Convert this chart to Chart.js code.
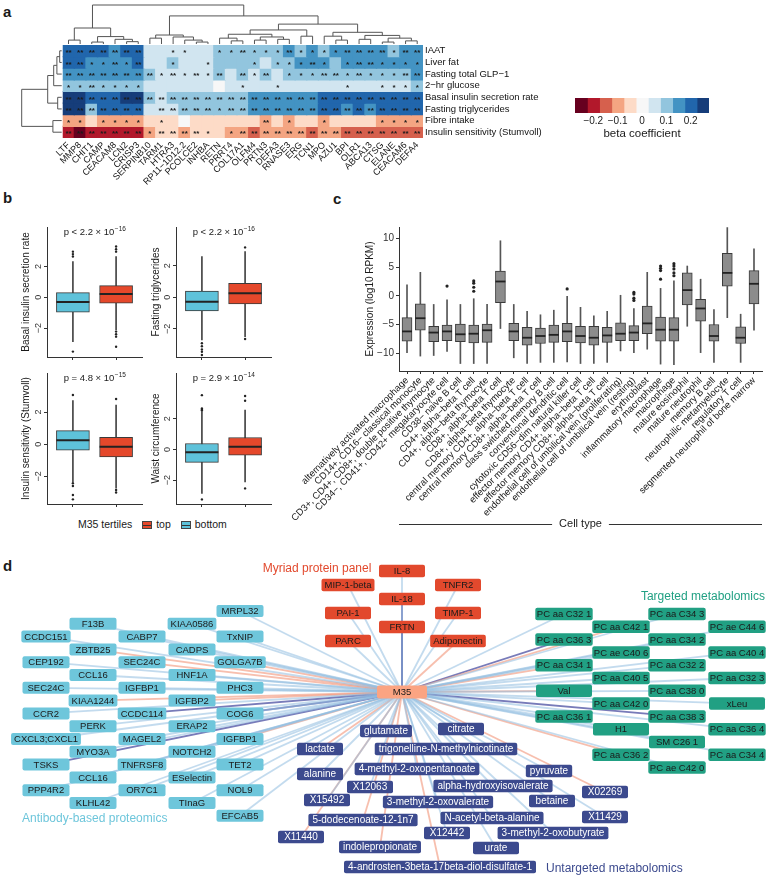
<!DOCTYPE html>
<html>
<head>
<meta charset="utf-8">
<title>M35 module</title>
<script src="https://cdn.jsdelivr.net/npm/chart.js@4.4.1/dist/chart.umd.min.js"></script>
<style>
  body { margin: 0; background: #fff; }
  #fig { position: relative; width: 766px; height: 876px; overflow: hidden; font-family: "Liberation Sans", Arial, sans-serif; color: #1a1a1a; }
  #fig canvas { position: absolute; }
  .tag { position: absolute; font-weight: bold; font-size: 15px; }
  .leg { position: absolute; left: 78px; top: 518px; font-size: 10.5px; white-space: nowrap; }
  .key { display: inline-block; width: 8px; height: 6px; border: 1px solid #444; margin: 0 4px 0 7px; vertical-align: -1px;
         background-image: linear-gradient(#333, #333); background-size: 100% 1px; background-position: center; background-repeat: no-repeat; }
</style>
</head>
<body>
<div id="fig">
  <div class="tag" style="left:3px;top:3px">a</div>
  <div class="tag" style="left:3px;top:189px">b</div>
  <div class="tag" style="left:333px;top:190px">c</div>
  <div class="tag" style="left:3px;top:557px">d</div>
  <div class="leg">M35 tertiles <span class="key" style="background-color:#E5482B"></span>top <span class="key" style="background-color:#5EC2DA"></span>bottom</div>
</div>
<script>
Chart.defaults.font.family = '"Liberation Sans", Arial, sans-serif';
Chart.defaults.color = '#1a1a1a';
Chart.defaults.animation = false;
Chart.defaults.plugins.legend.display = false;
Chart.defaults.plugins.tooltip.enabled = false;

// ---------------- panel a: heatmap ----------------
const genes = ['LTF', 'MMP8', 'CHIT1', 'CAMP', 'CEACAM8', 'LCN2', 'CRISP3', 'SERPINB10', 'TARM1', 'HTRA3', 'RP11−1D12.2',
  'PCOLCE2', 'INHBA', 'RETN', 'PRRT4', 'COL17A1', 'OLFM4', 'PRTN3', 'DEFA3', 'RNASE3', 'ERG', 'TCN1', 'MPO', 'AZU1',
  'BPI', 'OLR1', 'ABCA13', 'CTSG', 'ELANE', 'CEACAM6', 'DEFA4'];
const traits = ['IAAT', 'Liver fat', 'Fasting total GLP−1', '2−hr glucose', 'Basal insulin secretion rate',
  'Fasting triglycerides', 'Fibre intake', 'Insulin sensitivity (Stumvoll)'];
const beta = [
  [.2, .2, .2, .2, .15, .2, .2, .05, .05, .05, .05, .05, .05, .1, .1, .1, .1, .1, .1, .15, .1, .15, .1, .15, .15, .15, .15, .15, .1, .15, .15],
  [.2, .2, .15, .15, .15, .15, .2, .05, .05, .1, .05, .05, .05, .1, .1, .1, .1, .05, .1, .1, .15, .15, .15, .1, .15, .15, .15, .15, .15, .15, .15],
  [.15, .15, .15, .15, .15, .15, .15, .1, .05, .05, .05, .05, .05, .1, .05, .1, .05, .1, .05, .1, .1, .1, .1, .1, .1, .1, .1, .1, .1, .1, .15],
  [.1, .1, .1, .1, .1, .1, .1, .05, .05, .05, .05, .05, .05, 0, .05, .05, .05, .05, .05, .05, .05, .05, .05, .05, .05, .05, .05, .05, .05, .05, .1],
  [.25, .25, .2, .2, .2, .25, .25, .1, .05, .1, .1, .1, .1, .1, .1, .1, .15, .15, .15, .15, .15, .15, .2, .2, .2, .2, .2, .2, .2, .2, .2],
  [.25, .25, .1, .2, .2, .2, .2, .05, .05, .05, .1, .1, .1, .1, .1, .1, .15, .15, .15, .15, .15, .15, .2, .2, .15, .2, .15, .2, .2, .2, .2],
  [-.1, -.1, -.05, -.1, -.1, -.1, -.1, -.05, -.05, -.05, 0, -.05, -.05, -.05, -.05, -.05, -.05, -.1, -.05, -.1, -.05, -.05, -.1, -.05, -.05, -.05, -.05, -.1, -.1, -.1, -.1],
  [-.2, -.25, -.2, -.2, -.2, -.2, -.2, -.1, -.05, -.05, -.1, -.05, -.05, -.05, -.1, -.1, -.15, -.1, -.1, -.1, -.1, -.15, -.1, -.1, -.15, -.15, -.15, -.15, -.15, -.15, -.15]
];
// 2 = **, 1 = *, 0 = not significant
const stars = [
  '2222222001100112111211112222122',
  '2211212001001000101112101221111',
  '2222222212121202120111221211122',
  '1121111000000001001000001001111',
  '2222222222222222222222222222222',
  '2222222022222122222222222222222',
  '1101111010000000020100100001111',
  '2222222122221012222222222222222'
];
// dendrograms: [height, left, right], leaves are indices
const colTree = [1,
  [0.41, [0.1, 0, 1], [0.19, [0.05, 2, 3], [0.12, 4, [0.06, 5, 6]]]],
  [0.72,
    [0.23, [0.15, 7, 8], [0.18, 9, [0.1, 10, [0.05, 11, 12]]]],
    [0.51,
      [0.36, [0.25, [0.15, 13, [0.08, 14, 15]], [0.18, [0.1, 16, 17], [0.12, 18, 19]]], [0.2, 20, 21]],
      [0.3, [0.2, 22, [0.1, 23, 24]], [0.22, [0.12, 25, 26], [0.15, [0.05, 27, 28], [0.08, 29, 30]]]]]]];
const rowTree = [1, [0.35, [0.2, [0.12, [0.05, 0, 1], 2], 3], [0.1, 4, 5]], [0.22, 6, 7]];

const cbSteps = [-0.25, -0.2, -0.15, -0.1, -0.05, 0, 0.05, 0.1, 0.15, 0.2, 0.25];
const cbTicks = [-0.2, -0.1, 0, 0.1, 0.2];
const heatColors = ['#67001F', '#B2182B', '#D6604D', '#F4A582', '#FDDBC7', '#F7F7F7', '#D1E5F0', '#92C5DE', '#4393C3', '#2166AC', '#163D7A'];

// ---------------- panel b: boxplots ----------------
const tertiles = ['bottom', 'top'];
const bTicks = [-2, 0, 2];
// [lower whisker, Q1, median, Q3, upper whisker] for bottom, top
const basalBox = [[-2.88, -0.97, -0.31, 0.30, 2.31], [-2.12, -0.39, 0.21, 0.75, 2.64]];
const basalOut = [[2.64, 2.8, 2.96, -3.53], [2.96, 3.12, 3.29, -2.23, -2.4, -2.56, -3.21]];
const trigBox = [[-2.7, -0.87, -0.28, 0.40, 2.57], [-2.49, -0.42, 0.25, 0.89, 2.89]];
const trigOut = [[-2.91, -3.1, -3.3, -3.45, -3.65], [3.16, -2.64]];
const isiBox = [[-2.32, -0.37, 0.25, 0.85, 2.71], [-2.73, -0.79, -0.15, 0.43, 2.44]];
const isiOut = [[3.06, -2.42, -2.59, -3.15, -3.42], [2.81, -2.84, -3.0]];
const waistBox = [[-2.88, -0.85, -0.18, 0.39, 2.46], [-2.12, -0.37, 0.17, 0.78, 2.57]];
const waistOut = [[2.54, 2.6, 2.68, 3.55, -3.27], [3.18, 3.5, -2.55]];

// ---------------- panel c: expression by cell type ----------------
const cellTypes = ['alternatively activated macrophage', 'CD14+, CD16− classical monocyte',
  'CD3+, CD4+, CD8+, double positive thymocyte', 'CD34−, CD41+, CD42+ megakaryocyte cell', 'CD38− naive B cell',
  'CD4+, alpha−beta T cell', 'CD4+, alpha−beta thymocyte', 'CD8+, alpha−beta T cell', 'CD8+, alpha−beta thymocyte',
  'central memory CD4+, alpha−beta T cell', 'central memory CD8+, alpha−beta T cell', 'class switched memory B cell',
  'conventional dendritic cell', 'cytotoxic CD56−dim natural killer cell', 'effector memory CD4+, alpha−beta T cell',
  'effector memory CD8+, alpha−beta T cell', 'endothelial cell of umbilical vein (proliferating)',
  'endothelial cell of umbilical vein (resting)', 'erythroblast', 'inflammatory macrophage', 'macrophage',
  'mature eosinophil', 'mature neutrophil', 'memory B cell', 'neutrophilic metamyelocyte', 'regulatory T cell',
  'segmented neutrophil of bone marrow'];
const cTicks = [-10, -5, 0, 5, 10];
const cellBox = [
  [-9.9, -7.9, -6.2, -3.8, 1.9], [-10.5, -6.0, -3.9, -1.4, 4.1], [-10.4, -8.0, -6.4, -5.3, -1.5], [-9.7, -7.8, -6.2, -5.1, -0.7],
  [-11.8, -8.0, -6.7, -4.9, -1.5], [-11.8, -8.2, -6.6, -5.1, -0.5], [-11.8, -8.1, -6.0, -4.9, -1.5], [-5.7, -1.2, 2.5, 4.3, 9.6],
  [-10.8, -7.8, -6.2, -4.8, -1.5], [-11.8, -8.6, -7.3, -5.5, -2.7], [-11.6, -8.3, -7.0, -5.6, -3.3], [-11.6, -8.1, -6.8, -5.1, -2.5],
  [-11.5, -8.0, -6.2, -4.8, -0.1], [-11.8, -8.2, -7.0, -5.3, -2.0], [-11.8, -8.6, -7.3, -5.3, -3.5], [-11.6, -8.1, -6.9, -5.5, -2.7],
  [-9.6, -7.8, -6.6, -4.7, 0.1], [-9.9, -7.8, -6.4, -5.2, -2.2], [-9.3, -6.6, -4.8, -1.8, 4.1], [-11.9, -7.9, -5.9, -3.7, 1.3],
  [-12.0, -7.9, -5.9, -3.8, 2.6], [-5.3, -1.6, 1.0, 4.0, 5.2], [-9.9, -4.4, -2.2, -0.6, 2.9], [-11.6, -7.9, -7.0, -5.0, -2.4],
  [-3.8, 1.7, 4.0, 7.4, 11.9], [-11.6, -8.3, -7.3, -5.4, -3.2], [-6.0, -1.4, 2.1, 4.4, 8.2]
];
const cellOut = [[], [], [], [1.7], [], [2.6, 2.2, 1.5, 0.8], [], [], [], [], [], [], [1.2], [], [], [], [],
  [0.6, 0.3, -0.4, -0.8], [], [5.2, 4.8, 4.4, 2.9], [5.6, 5.2, 4.7, 4.0, 3.5], [], [], [], [], [], []];

// ---------------- panel d: network ----------------
// sign of the M35 association per node: b = positive, r = negative, d = strongest positive
const abNames = ['CCDC151', 'CEP192', 'SEC24C', 'CCR2', 'CXCL3;CXCL1', 'TSKS', 'PPP4R2',
  'F13B', 'ZBTB25', 'CCL16', 'KIAA1244', 'PERK', 'MYO3A', 'CCL16', 'KLHL42',
  'CABP7', 'SEC24C', 'IGFBP1', 'CCDC114', 'MAGEL2', 'TNFRSF8', 'OR7C1',
  'KIAA0586', 'CADPS', 'HNF1A', 'IGFBP2', 'ERAP2', 'NOTCH2', 'ESelectin', 'TInaG',
  'MRPL32', 'TxNIP', 'GOLGA7B', 'PHC3', 'COG6', 'IGFBP1', 'TET2', 'NOL9', 'EFCAB5'];
const abSign = 'bbbbbdb' + 'brbrbbbb' + 'brbdbbb' + 'bbbrbbbb' + 'bbrbdrbbb';
const abCol = [0, 0, 0, 0, 0, 0, 0, 1, 1, 1, 1, 1, 1, 1, 1, 2, 2, 2, 2, 2, 2, 2, 3, 3, 3, 3, 3, 3, 3, 3, 4, 4, 4, 4, 4, 4, 4, 4, 4];
const abRow = [2, 4, 6, 8, 10, 12, 14, 1, 3, 5, 7, 9, 11, 13, 15, 2, 4, 6, 8, 10, 12, 14, 1, 3, 5, 7, 9, 11, 13, 15, 0, 2, 4, 6, 8, 10, 12, 14, 16];

const myNames = ['MIP-1-beta', 'PAI-1', 'PARC', 'IL-8', 'IL-18', 'FRTN', 'TNFR2', 'TIMP-1', 'Adiponectin'];
const mySign = 'bbbbddbbr';
const myCol = [0, 0, 0, 1, 1, 1, 2, 2, 2];
const myRow = [1, 3, 5, 0, 2, 4, 1, 3, 5];

const tmNames = ['PC aa C32 1', 'PC aa C36 3', 'PC aa C34 1', 'Val', 'PC aa C36 1',
  'PC aa C42 1', 'PC ae C40 6', 'PC aa C40 5', 'PC aa C42 0', 'H1', 'PC aa C36 2',
  'PC aa C34 3', 'PC aa C34 2', 'PC aa C32 2', 'PC aa C38 0', 'PC aa C38 3', 'SM C26 1', 'PC ae C42 0',
  'PC ae C44 6', 'PC aa C40 4', 'PC aa C32 3', 'xLeu', 'PC aa C36 4', 'PC aa C34 4'];
const tmSign = 'bdrrb' + 'rbbbbr' + 'bbbbdbb' + 'bbbbbb';
const tmCol = [0, 0, 0, 0, 0, 1, 1, 1, 1, 1, 1, 2, 2, 2, 2, 2, 2, 2, 3, 3, 3, 3, 3, 3];
const tmRow = [0, 2, 4, 6, 8, 1, 3, 5, 7, 9, 11, 0, 2, 4, 6, 8, 10, 12, 1, 3, 5, 7, 9, 11];

const umNames = ['glutamate', 'citrate', 'lactate', 'trigonelline-N-methylnicotinate', 'alanine', '4-methyl-2-oxopentanoate',
  'pyruvate', 'X12063', 'alpha-hydroxyisovalerate', 'X02269', 'X15492', '3-methyl-2-oxovalerate', 'betaine',
  '5-dodecenoate-12-1n7', 'N-acetyl-beta-alanine', 'X11429', 'X11440', 'X12442', '3-methyl-2-oxobutyrate',
  'indolepropionate', 'urate', '4-androsten-3beta-17beta-diol-disulfate-1'];
const umSign = 'bbrbbbbbbrbbbrbbrbbrbr';
const umX = [386, 461, 320, 446, 320, 417, 549, 370, 493, 605, 327, 438, 552, 363, 492, 605, 301, 447, 553, 380, 496, 440];
const umY = [731, 729, 749, 749, 774, 769, 771, 787, 786, 792, 800, 802, 801, 820, 818, 817, 837, 833, 833, 847, 848, 867];

// ---------------- helpers ----------------
const FONT = '"Liberation Sans", Arial, sans-serif';
const fmtMinus = v => (v < 0 ? '−' : '') + Math.abs(v);
const heatColor = v => heatColors[Math.max(0, Math.min(10, Math.round((v + 0.25) / 0.05)))];

function canvasAt(left, top, w, h) {
  const c = document.createElement('canvas');
  c.width = w; c.height = h;
  c.style.left = left + 'px'; c.style.top = top + 'px';
  c.style.width = w + 'px'; c.style.height = h + 'px';
  document.getElementById('fig').appendChild(c);
  return c;
}

function drawTree(ctx, node, leaf, at) {
  if (typeof node === 'number') return { p: leaf(node), h: 0 };
  const [h, a, b] = node;
  const A = drawTree(ctx, a, leaf, at), B = drawTree(ctx, b, leaf, at);
  ctx.beginPath();
  ctx.moveTo(...at(A.p, A.h));
  ctx.lineTo(...at(A.p, h));
  ctx.lineTo(...at(B.p, h));
  ctx.lineTo(...at(B.p, B.h));
  ctx.stroke();
  return { p: (A.p + B.p) / 2, h };
}

const dendroPlugin = {
  id: 'dendro',
  afterDraw(chart) {
    const { ctx, chartArea: a, scales: { x, y } } = chart;
    ctx.save();
    ctx.strokeStyle = '#555';
    ctx.lineWidth = 1;
    drawTree(ctx, colTree, i => x.getPixelForValue(i), (p, h) => [p, a.top - 1 - h * 39]);
    drawTree(ctx, rowTree, i => y.getPixelForValue(i), (p, h) => [a.left - 1 - h * 40, p]);
    ctx.restore();
  }
};

const starPlugin = {
  id: 'stars',
  afterDatasetsDraw(chart) {
    const { ctx, scales: { x, y } } = chart;
    ctx.save();
    ctx.fillStyle = '#1a1a1a';
    ctx.font = 'bold 8px ' + FONT;
    ctx.textAlign = 'center';
    ctx.textBaseline = 'middle';
    stars.forEach((row, r) => [...row].forEach((s, c) => {
      if (s !== '0') ctx.fillText(s === '2' ? '**' : '*', x.getPixelForValue(c), y.getPixelForValue(r) + 2);
    }));
    ctx.restore();
  }
};

const medianPlugin = {
  id: 'medians',
  afterDatasetsDraw(chart, args, opts) {
    if (!opts.values) return;
    const { ctx, scales: { x, y } } = chart;
    ctx.save();
    ctx.strokeStyle = '#222';
    ctx.lineWidth = opts.lineWidth;
    opts.values.forEach((m, i) => {
      const px = x.getPixelForValue(i + 1), py = y.getPixelForValue(m);
      ctx.beginPath();
      ctx.moveTo(px - opts.half, py);
      ctx.lineTo(px + opts.half, py);
      ctx.stroke();
    });
    ctx.restore();
  }
};

const pvalPlugin = {
  id: 'pval',
  afterDraw(chart, args, opts) {
    if (!opts.text) return;
    const { ctx, chartArea: a } = chart;
    ctx.save();
    ctx.fillStyle = '#1a1a1a';
    ctx.font = '9.5px ' + FONT;
    const w1 = ctx.measureText(opts.text).width;
    ctx.font = '6.5px ' + FONT;
    const w2 = ctx.measureText(opts.exp).width;
    const x0 = (a.left + a.right) / 2 - (w1 + w2) / 2, y0 = a.top + 8;
    ctx.font = '9.5px ' + FONT;
    ctx.fillText(opts.text, x0, y0);
    ctx.font = '6.5px ' + FONT;
    ctx.fillText(opts.exp, x0 + w1 + 0.5, y0 - 4);
    ctx.restore();
  }
};

const axisNotePlugin = {
  id: 'axisNote',
  afterDraw(chart, args, opts) {
    if (!opts.text) return;
    const { ctx, chartArea: a } = chart;
    ctx.save();
    ctx.font = '11px ' + FONT;
    ctx.fillStyle = '#1a1a1a';
    ctx.textAlign = 'center';
    ctx.textBaseline = 'middle';
    const cx = (a.left + a.right) / 2, w = ctx.measureText(opts.text).width;
    ctx.fillText(opts.text, cx, opts.y);
    ctx.strokeStyle = '#333';
    ctx.lineWidth = 1;
    ctx.beginPath();
    ctx.moveTo(a.left, opts.y + 0.5); ctx.lineTo(cx - w / 2 - 7, opts.y + 0.5);
    ctx.moveTo(cx + w / 2 + 7, opts.y + 0.5); ctx.lineTo(a.right, opts.y + 0.5);
    ctx.stroke();
    ctx.restore();
  }
};

// boxplot drawn from floating bars (whisker + box), scatter (outliers) and a median line
function boxChart(canvas, cfg) {
  const n = cfg.box.length;
  return new Chart(canvas, {
    type: 'bar',
    data: {
      datasets: [
        { data: cfg.box.map((b, i) => ({ x: i + 1, y: [b[0], b[4]] })), backgroundColor: cfg.whisker,
          barThickness: 1, grouped: false, order: 3 },
        { data: cfg.box.map((b, i) => ({ x: i + 1, y: [b[1], b[3]] })), backgroundColor: cfg.fill,
          borderColor: '#3a3a3a', borderWidth: 1, borderSkipped: false, barThickness: cfg.boxWidth, grouped: false, order: 2 },
        { type: 'scatter', data: cfg.out.flatMap((arr, i) => arr.map(v => ({ x: i + 1, y: v }))),
          pointRadius: cfg.dot, backgroundColor: '#222', borderWidth: 0, order: 1 }
      ]
    },
    options: {
      responsive: false,
      devicePixelRatio: 1,
      layout: { padding: { left: 0, top: cfg.padTop, right: cfg.padRight, bottom: 0 } },
      plugins: {
        medians: { values: cfg.box.map(b => b[2]), half: cfg.boxWidth / 2, lineWidth: cfg.medWidth },
        pval: cfg.pval || {},
        axisNote: cfg.note || {}
      },
      scales: {
        x: {
          type: 'linear', min: 0.4, max: n + 0.6, offset: false,
          grid: { display: true, drawOnChartArea: false, offset: false, tickLength: 3, color: '#333' },
          border: { display: true, color: '#333' },
          afterBuildTicks: s => { s.ticks = cfg.box.map((b, i) => ({ value: i + 1 })); },
          ticks: { autoSkip: false, minRotation: cfg.rot, maxRotation: cfg.rot, padding: 1,
                   font: { size: 9.5 }, color: '#1a1a1a', callback: v => cfg.labels ? cfg.labels[v - 1] : '' },
          afterFit: s => { s.height = cfg.xHeight; }
        },
        y: {
          min: cfg.range[0], max: cfg.range[1],
          grid: { display: true, drawOnChartArea: false, tickLength: 3, color: '#333' },
          border: { display: true, color: '#333' },
          afterBuildTicks: s => { s.ticks = cfg.ticks.map(v => ({ value: v })); },
          ticks: { autoSkip: false, callback: fmtMinus, padding: cfg.yPad, font: { size: cfg.yFont }, color: '#333',
                   minRotation: cfg.yRot, maxRotation: cfg.yRot, crossAlign: cfg.yRot ? 'center' : 'near' },
          title: { display: true, text: cfg.title, font: { size: 10 }, padding: { top: cfg.titlePad, bottom: 0 } },
          afterFit: s => { s.width = cfg.yWidth; }
        }
      }
    },
    plugins: [medianPlugin, pvalPlugin, axisNotePlugin]
  });
}

// ---------------- draw panel a ----------------
new Chart(canvasAt(0, 0, 560, 190), {
  type: 'bar',
  data: {
    labels: genes,
    datasets: traits.map((t, r) => ({
      label: t,
      data: genes.map(() => [r - 0.5, r + 0.5]),
      backgroundColor: beta[r].map(heatColor),
      grouped: false, barPercentage: 1, categoryPercentage: 1, borderWidth: 0, inflateAmount: 0.6
    }))
  },
  options: {
    responsive: false,
    devicePixelRatio: 1,
    layout: { padding: { left: 62.7, top: 45, right: 0, bottom: 0 } },
    scales: {
      x: {
        grid: { display: false, drawTicks: false }, border: { display: false },
        ticks: { autoSkip: false, minRotation: 45, maxRotation: 45, padding: 2, font: { size: 9 }, color: '#111' },
        afterFit: s => { s.height = 52; }
      },
      y: {
        position: 'right', min: -0.5, max: 7.5, reverse: true,
        grid: { display: false, drawTicks: false }, border: { display: false },
        afterBuildTicks: s => { s.ticks = traits.map((t, i) => ({ value: i })); },
        ticks: { autoSkip: false, callback: v => traits[v], padding: 2, font: { size: 9.5 }, color: '#111' },
        afterFit: s => { s.width = 137; }
      }
    }
  },
  plugins: [starPlugin, dendroPlugin]
});

// colour key
new Chart(canvasAt(560, 85, 170, 62), {
  type: 'bar',
  data: {
    labels: [''],
    datasets: cbSteps.map(v => ({
      data: [[v - 0.025, v + 0.025]], backgroundColor: heatColor(v),
      grouped: false, barPercentage: 1, categoryPercentage: 1, inflateAmount: 0.6
    }))
  },
  options: {
    indexAxis: 'y',
    responsive: false,
    devicePixelRatio: 1,
    layout: { padding: { left: 15, right: 21, top: 13, bottom: 0 } },
    scales: {
      x: {
        type: 'linear', min: -0.275, max: 0.275,
        grid: { display: false, drawTicks: false }, border: { display: false },
        afterBuildTicks: s => { s.ticks = cbTicks.map(v => ({ value: v })); },
        ticks: { autoSkip: false, callback: fmtMinus, padding: 2, font: { size: 10 }, color: '#1a1a1a' },
        title: { display: true, text: 'beta coefficient', font: { size: 11.5 }, padding: { top: 0, bottom: 6 } },
        afterFit: s => { s.height = 34; }
      },
      y: { display: false }
    }
  }
});

// ---------------- draw panel b ----------------
const tertileFill = ['#5EC2DA', '#E5482B'];
const bCommon = { fill: tertileFill, whisker: '#444', boxWidth: 33, dot: 1.2, medWidth: 2, rot: 0,
  yRot: 90, yFont: 9, yPad: 0, xHeight: 8, padTop: 22, titlePad: 20, ticks: bTicks };
boxChart(canvasAt(0, 205, 150, 160), Object.assign({}, bCommon, {
  box: basalBox, out: basalOut, range: [-3.88, 4.56], title: 'Basal insulin secretion rate',
  pval: { text: 'p < 2.2 × 10', exp: '−16' }, yWidth: 47, padRight: 8 }));
boxChart(canvasAt(130, 205, 150, 160), Object.assign({}, bCommon, {
  box: trigBox, out: trigOut, range: [-3.78, 4.45], title: 'Fasting triglycerides',
  pval: { text: 'p < 2.2 × 10', exp: '−16' }, yWidth: 46, padRight: 9 }));
boxChart(canvasAt(0, 351, 150, 161), Object.assign({}, bCommon, {
  box: isiBox, out: isiOut, range: [-3.71, 4.43], title: 'Insulin sensitivity (Stumvoll)',
  pval: { text: 'p = 4.8 × 10', exp: '−15' }, yWidth: 47, padRight: 8 }));
boxChart(canvasAt(130, 351, 150, 161), Object.assign({}, bCommon, {
  box: waistBox, out: waistOut, range: [-3.57, 5.0], title: 'Waist circumference',
  pval: { text: 'p = 2.9 × 10', exp: '−14' }, yWidth: 46, padRight: 9 }));

// ---------------- draw panel c ----------------
boxChart(canvasAt(240, 205, 526, 330), {
  box: cellBox, out: cellOut, labels: cellTypes, range: [-13.1, 12], ticks: cTicks,
  title: 'Expression (log10 RPKM)', fill: '#8C8C8C', whisker: '#555', boxWidth: 10, dot: 1.6, medWidth: 1.8,
  rot: 45, yRot: 0, yFont: 10, yPad: 2, xHeight: 164, padTop: 22, padRight: 1, yWidth: 159, titlePad: 124,
  note: { text: 'Cell type', y: 319 }
});

// ---------------- draw panel d ----------------
const hub = { name: 'M35', x: 402, y: 692, fill: '#FBA482', text: '#1a1a1a', font: 9.5, minW: 50, h: 13, pad: 6 };
const abStyle = { xs: [46, 93, 142, 192, 240], y0: 611, dy: 12.8, fill: '#6EC6DB', text: '#1a1a1a', font: 9.5, minW: 47, h: 12, pad: 6 };
const myStyle = { xs: [348, 402, 458], y0: 571, dy: 14, fill: '#E2492D', text: '#1a1a1a', font: 9.5, minW: 46, h: 12.5, pad: 6 };
const tmStyle = { xs: [564, 621, 677, 737], y0: 614, dy: 12.8, fill: '#21A083', text: '#1a1a1a', font: 9.5, minW: 56, h: 12.5, pad: 3 };
const umStyle = { fill: '#3C4A8E', text: '#ffffff', font: 10, minW: 46, h: 12.5, pad: 8 };

const nodes = [];
const addGrid = (names, cols, rows, signs, st) => names.forEach((nm, i) =>
  nodes.push({ name: nm, x: st.xs[cols[i]], y: st.y0 + rows[i] * st.dy, sign: signs[i], st }));
addGrid(abNames, abCol, abRow, abSign, abStyle);
addGrid(myNames, myCol, myRow, mySign, myStyle);
addGrid(tmNames, tmCol, tmRow, tmSign, tmStyle);
umNames.forEach((nm, i) => nodes.push({ name: nm, x: umX[i], y: umY[i], sign: umSign[i], st: umStyle }));

const edgeColors = { b: 'rgba(146,190,224,0.55)', r: 'rgba(242,148,120,0.6)', d: 'rgba(86,90,168,0.8)' };
const edgeOrder = { b: 0, r: 1, d: 2 };
const edges = nodes.slice().sort((p, q) => edgeOrder[p.sign] - edgeOrder[q.sign]);

const groupLabels = [
  { text: 'Myriad protein panel', x: 317, y: 569, color: '#E2492D', align: 'center' },
  { text: 'Targeted metabolomics', x: 765, y: 597, color: '#21A083', align: 'right' },
  { text: 'Antibody-based proteomics', x: 22, y: 819, color: '#6EC6DB', align: 'left' },
  { text: 'Untargeted metabolomics', x: 546, y: 869, color: '#3C4A8E', align: 'left' }
];

const nodePlugin = {
  id: 'nodes',
  afterDatasetsDraw(chart) {
    const { ctx, scales: { x, y } } = chart;
    ctx.save();
    ctx.textAlign = 'center';
    ctx.textBaseline = 'middle';
    const box = (n, st) => {
      const px = x.getPixelForValue(n.x), py = y.getPixelForValue(n.y);
      ctx.font = st.font + 'px ' + FONT;
      const w = Math.max(st.minW, ctx.measureText(n.name).width + st.pad);
      ctx.fillStyle = st.fill;
      ctx.beginPath();
      ctx.roundRect(px - w / 2, py - st.h / 2, w, st.h, 2);
      ctx.fill();
      ctx.fillStyle = st.text;
      ctx.fillText(n.name, px, py + 0.5);
    };
    nodes.forEach(n => box(n, n.st));
    box(hub, hub);
    ctx.font = '12px ' + FONT;
    groupLabels.forEach(g => {
      ctx.fillStyle = g.color;
      ctx.textAlign = g.align;
      ctx.fillText(g.text, x.getPixelForValue(g.x), y.getPixelForValue(g.y));
    });
    ctx.restore();
  }
};

new Chart(canvasAt(0, 555, 766, 321), {
  type: 'scatter',
  data: {
    datasets: edges.map(n => ({
      data: [{ x: hub.x, y: hub.y }, { x: n.x, y: n.y }],
      showLine: true, borderColor: edgeColors[n.sign], borderWidth: 1.8, pointRadius: 0
    }))
  },
  options: {
    responsive: false,
    devicePixelRatio: 1,
    layout: { padding: 0 },
    scales: {
      x: { type: 'linear', display: false, min: 0, max: 766 },
      y: { type: 'linear', display: false, min: 555, max: 876, reverse: true }
    }
  },
  plugins: [nodePlugin]
});
</script>
</body>
</html>
